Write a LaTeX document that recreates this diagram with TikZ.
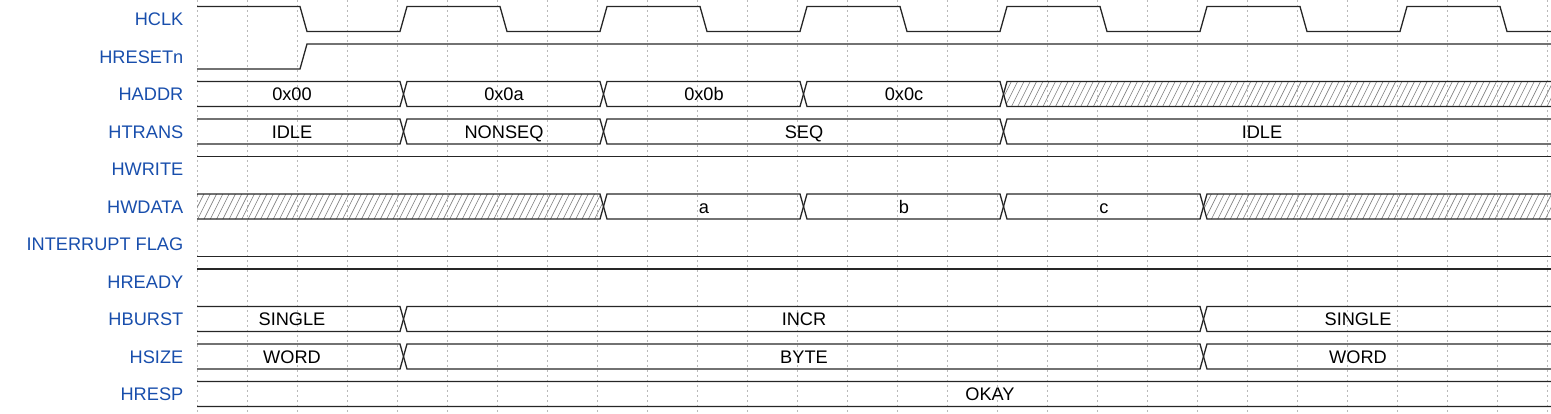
\documentclass[tikz,border=0pt]{standalone}
\usepackage{fontspec}
\setmainfont{Liberation Sans}
\usepackage{tikz}
\usetikzlibrary{arrows.meta}
\definecolor{sigblue}{RGB}{24,78,172}
\definecolor{gridgray}{RGB}{185,185,185}
\definecolor{hatchgray}{RGB}{125,125,125}
%%% bus segment: left transition start #1, right transition start #2, row centre #3
\newcommand{\busshape}[3]{({#1+3.5},#3) -- ({#1+7},{#3-12.5}) -- (#2,{#3-12.5}) -- ({#2+3.5},#3) -- (#2,{#3+12.5}) -- ({#1+7},{#3+12.5}) -- cycle}
\newcommand{\hatchseg}[3]{%
  \begin{scope}
    \clip \busshape{#1}{#2}{#3};
    \pgfmathtruncatemacro{\nhatch}{(#2-#1)/6.3+6}
    \foreach \i in {0,...,\nhatch}
      \draw[hatch] ({#1-14+\i*6.3},{#3+13}) -- ({#1-1+\i*6.3},{#3-13});
  \end{scope}
  \draw[sig] \busshape{#1}{#2}{#3};}

\begin{document}
\begin{tikzpicture}[x=1pt,y=-1pt,
  sig/.style={line width=1.3pt, black!85, line join=miter},
  hatch/.style={line width=0.6pt, hatchgray},
  gridline/.style={line width=0.7pt, gridgray, dash pattern=on 2pt off 3pt},
  signame/.style={anchor=base east, inner sep=0pt, text=sigblue, font=\fontsize{18.2}{20}\selectfont},
  wavetxt/.style={anchor=base, inner sep=0pt, font=\fontsize{18.2}{20}\selectfont}]
\useasboundingbox (0,0) rectangle (1551,413);
%%% The dotted grid, one line each quarter clock
\foreach \k in {0,...,27}
  \draw[gridline] ({197+50*\k},0) -- ({197+50*\k},413);
%%% The signal names
\node[signame] (nHCLK) at (183.5,25.5) {HCLK};
\node[signame] (nHRESETn) at (183.5,63) {HRESETn};
\node[signame] (nHADDR) at (183.5,100.5) {HADDR};
\node[signame] (nHTRANS) at (183.5,138) {HTRANS};
\node[signame] (nHWRITE) at (183.5,175.5) {HWRITE};
\node[signame] (nHWDATA) at (183.5,213) {HWDATA};
\node[signame] (nIRQ) at (183.5,250.5) {INTERRUPT FLAG};
\node[signame] (nHREADY) at (183.5,288) {HREADY};
\node[signame] (nHBURST) at (183.5,325.5) {HBURST};
\node[signame] (nHSIZE) at (183.5,363) {HSIZE};
\node[signame] (nHRESP) at (183.5,400.5) {HRESP};
\begin{scope}
\clip (197,-5) rectangle (1551,420);
%%% HCLK
\draw[sig] (190,6.5) -- (300,6.5)
  \foreach \t in {300,500,...,1300} { -- (\t,6.5) -- ({\t+7},31.5) -- ({\t+100},31.5) -- ({\t+107},6.5) }
  -- (1500,6.5) -- (1507,31.5) -- (1560,31.5);
%%% HRESETn
\draw[sig] (190,69) -- (300,69) -- (307,44) -- (1560,44);
%%% HADDR
\draw[sig] \busshape{180}{400}{94};
\draw[sig] \busshape{400}{600}{94};
\draw[sig] \busshape{600}{800}{94};
\draw[sig] \busshape{800}{1000}{94};
\hatchseg{1000}{1570}{94}
%%% HTRANS
\draw[sig] \busshape{180}{400}{131.5};
\draw[sig] \busshape{400}{600}{131.5};
\draw[sig] \busshape{600}{1000}{131.5};
\draw[sig] \busshape{1000}{1570}{131.5};
%%% HWRITE
\draw[sig] (190,156.5) -- (1560,156.5);
%%% HWDATA
\hatchseg{180}{600}{206.5}
\draw[sig] \busshape{600}{800}{206.5};
\draw[sig] \busshape{800}{1000}{206.5};
\draw[sig] \busshape{1000}{1200}{206.5};
\hatchseg{1200}{1570}{206.5}
%%% INTERRUPT FLAG
\draw[sig] (190,256.5) -- (1560,256.5);
%%% HREADY
\draw[sig] (190,269) -- (1560,269);
%%% HBURST
\draw[sig] \busshape{180}{400}{319};
\draw[sig] \busshape{400}{1200}{319};
\draw[sig] \busshape{1200}{1570}{319};
%%% HSIZE
\draw[sig] \busshape{180}{400}{356.5};
\draw[sig] \busshape{400}{1200}{356.5};
\draw[sig] \busshape{1200}{1570}{356.5};
%%% HRESP
\draw[sig] \busshape{180}{1570}{394};
\end{scope}
%%% The values on the buses
\node[wavetxt] (vADDR0) at (292,100.5) {0x00};
\node[wavetxt] (vADDRa) at (504,100.5) {0x0a};
\node[wavetxt] (vADDRb) at (704,100.5) {0x0b};
\node[wavetxt] (vADDRc) at (904,100.5) {0x0c};
\node[wavetxt] (vTRANS0) at (292,138) {IDLE};
\node[wavetxt] (vTRANS1) at (504,138) {NONSEQ};
\node[wavetxt] (vTRANS2) at (804,138) {SEQ};
\node[wavetxt] (vTRANS3) at (1262,138) {IDLE};
\node[wavetxt] (vDATAa) at (704,213) {a};
\node[wavetxt] (vDATAb) at (904,213) {b};
\node[wavetxt] (vDATAc) at (1104,213) {c};
\node[wavetxt] (vBURST0) at (292,325.5) {SINGLE};
\node[wavetxt] (vBURST1) at (804,325.5) {INCR};
\node[wavetxt] (vBURST2) at (1358,325.5) {SINGLE};
\node[wavetxt] (vSIZE0) at (292,363) {WORD};
\node[wavetxt] (vSIZE1) at (804,363) {BYTE};
\node[wavetxt] (vSIZE2) at (1358,363) {WORD};
\node[wavetxt] (vRESP) at (990,400.5) {OKAY};
\end{tikzpicture}
\end{document}
